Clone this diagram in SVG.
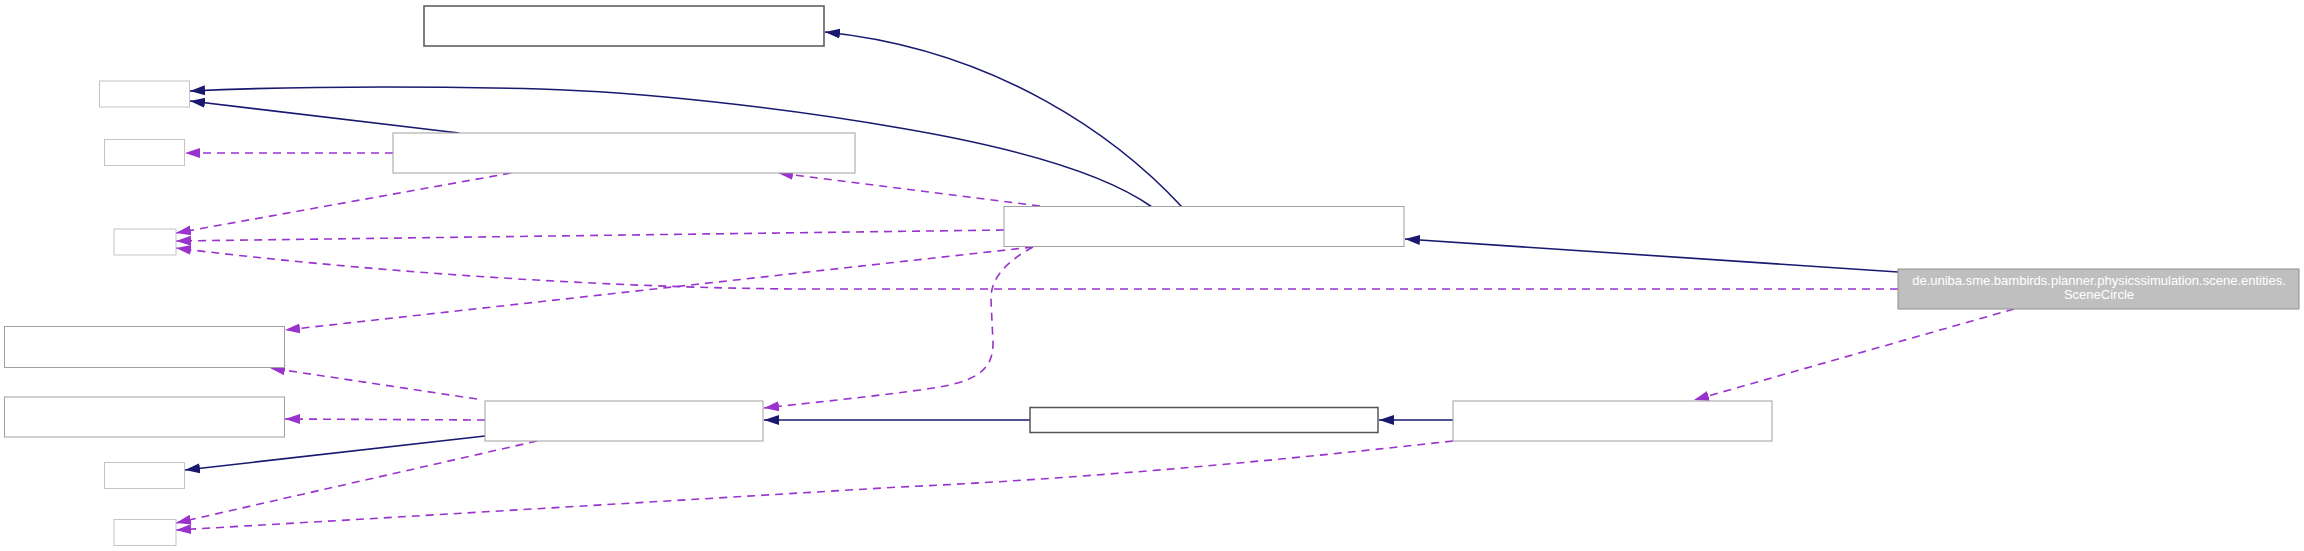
<svg xmlns="http://www.w3.org/2000/svg" width="2304" height="551" viewBox="0 0 2304 551">
<style>
.bg{fill:#ffffff}
.nd{fill:#ffffff;stroke:#a0a0a0;stroke-width:1}
.lt{fill:#ffffff;stroke:#c4c4c4;stroke-width:1}
.dk{fill:#ffffff;stroke:#555555;stroke-width:1.5}
.cur{fill:#bfbfbf;stroke:#909090;stroke-width:1}
.lbl{font-family:"Liberation Sans",Arial,sans-serif;font-size:13px;fill:#ffffff;text-anchor:middle}
.inh{fill:none;stroke:#191970;stroke-width:1.6;marker-end:url(#an)}
.use{fill:none;stroke:#9a32cd;stroke-width:1.6;stroke-dasharray:8,6;marker-end:url(#ap)}
</style>
<defs>
<marker id="an" markerUnits="userSpaceOnUse" markerWidth="16" markerHeight="11" refX="15" refY="5.5" orient="auto">
<path d="M0,0.5 L15,5.5 L0,10.5 z" fill="#191970"/>
</marker>
<marker id="ap" markerUnits="userSpaceOnUse" markerWidth="16" markerHeight="11" refX="15" refY="5.5" orient="auto">
<path d="M0,0.5 L15,5.5 L0,10.5 z" fill="#9a32cd"/>
</marker>
</defs>
<rect class="bg" x="0" y="0" width="2304" height="551"/>
<g id="edges">
<path class="inh" d="M1182,207 C1120,140 1000,50 825,32"/>
<path class="inh" d="M1152,207 C1100,170 1000,145 900,128 C780,107 640,92 540,89 C420,86 300,86 190,91"/>
<path class="inh" d="M459,133 L190,101"/>
<path class="use" d="M393,153 L185,153"/>
<path class="use" d="M511,173 L176,233"/>
<path class="use" d="M1040,206 L778,173"/>
<path class="use" d="M1004,230 L176,241"/>
<path class="use" d="M1898,289 L800,289 C600,288 350,270 176,248"/>
<path class="use" d="M1033,247 L285,330"/>
<path class="use" d="M1033,247 C1005,262 990,280 991,300 L993,343 C993,372 975,383 920,390 C860,398 800,404 764,408"/>
<path class="use" d="M2014,309 L1694,400"/>
<path class="inh" d="M1898,272 L1405,239"/>
<path class="inh" d="M1453,420 L1379,420"/>
<path class="inh" d="M1030,420 L764,420"/>
<path class="use" d="M477,399 L270,368"/>
<path class="use" d="M485,420 L285,419"/>
<path class="inh" d="M485,436 L185,470"/>
<path class="use" d="M537,441 L176,523"/>
<path class="use" d="M1453,441 C1300,458 1100,478 900,487 C600,505 350,520 176,530"/>
</g>
<g id="node-top"><rect class="dk" x="424" y="6" width="400" height="40"/></g>
<g id="node-a"><rect class="lt" x="99.5" y="81" width="90" height="26"/></g>
<g id="node-b"><rect class="lt" x="104.5" y="139.5" width="80" height="26"/></g>
<g id="node-c"><rect class="nd" x="393" y="133" width="462" height="40"/></g>
<g id="node-d"><rect class="lt" x="114" y="229" width="62" height="26"/></g>
<g id="node-e"><rect class="nd" x="1004" y="206.5" width="400" height="40"/></g>
<g id="node-current">
<rect class="cur" x="1898" y="269" width="401" height="40"/>
<text class="lbl" x="2099" y="285">de.uniba.sme.bambirds.planner.physicssimulation.scene.entities.</text>
<text class="lbl" x="2099" y="299">SceneCircle</text>
</g>
<g id="node-g"><rect class="nd" x="4.5" y="326.5" width="280" height="41"/></g>
<g id="node-h"><rect class="nd" x="4.5" y="397" width="280" height="40"/></g>
<g id="node-i"><rect class="nd" x="485" y="401" width="278" height="40"/></g>
<g id="node-j"><rect class="lt" x="104.5" y="462.5" width="80" height="26"/></g>
<g id="node-k"><rect class="lt" x="114" y="519.5" width="62" height="26"/></g>
<g id="node-l"><rect class="dk" x="1030" y="407.5" width="348" height="25"/></g>
<g id="node-m"><rect class="nd" x="1453" y="401" width="319" height="40"/></g>
</svg>
